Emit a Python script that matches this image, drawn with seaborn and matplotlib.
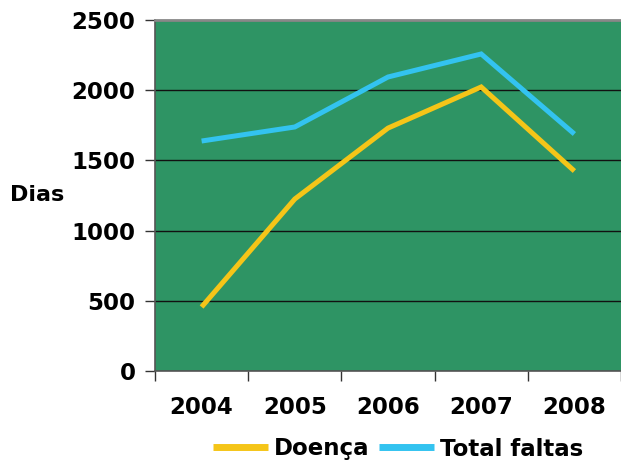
import matplotlib
matplotlib.use("Agg")
import matplotlib.pyplot as plt
import seaborn as sns
import pandas as pd
import numpy as np

years = ["2004", "2005", "2006", "2007", "2008"]
doenca = [456, 1225, 1730, 2023, 1424]
total_faltas = [1638, 1738, 2094, 2258, 1688]
series_names = ["Doença", "Total faltas"]
colors = ["#F5C518", "#33C3F0"]

df = pd.DataFrame({
    "pos": list(range(len(years))) * 2,
    "Dias": doenca + total_faltas,
    "serie": [series_names[0]] * len(years) + [series_names[1]] * len(years),
})

sns.set_style("white")
plt.rcParams['font.family'] = ['DejaVu Sans']
plt.rcParams['text.color'] = 'black'
plt.rcParams['xtick.color'] = 'black'
plt.rcParams['ytick.color'] = 'black'

fig = plt.figure(figsize=(6.21, 4.63), dpi=100)
ax = fig.add_axes([155/621, 1 - 371/463, 466/621, 351/463])
ax.set_facecolor("#2E9464")

sns.lineplot(data=df, x="pos", y="Dias", hue="serie", palette=colors,
             linewidth=3.6, ax=ax, legend=True)
for ln in ax.get_lines():
    ln.set_solid_capstyle("butt")
    ln.set_solid_joinstyle("miter")

ax.set_xlim(-0.5, len(years) - 0.5)
ax.set_ylim(0, 2500)
ax.set_yticks(np.arange(0, 2501, 500))
ax.set_yticklabels([str(v) for v in range(0, 2501, 500)], fontsize=16.5, fontweight="bold", color="black")
ax.set_xticks(range(len(years)))
ax.set_xticklabels(years, fontsize=16.5, fontweight="bold", color="black")
ax.set_xticks(np.arange(-0.5, len(years), 1.0), minor=True)
ax.tick_params(axis="x", which="major", bottom=True, length=0, pad=18)
ax.tick_params(axis="x", which="minor", bottom=True, length=7, width=1, color="#333333", direction="out")
ax.tick_params(axis="y", which="major", left=True, length=7, width=1, color="#333333", direction="out", pad=7)
ax.yaxis.grid(True, color="#111111", linewidth=1)
ax.set_axisbelow(True)

for s in ["left", "bottom"]:
    ax.spines[s].set_color("#555555")
    ax.spines[s].set_linewidth(1.2)
ax.spines["top"].set_color("#888888")
ax.spines["top"].set_linewidth(2)
ax.spines["right"].set_visible(False)

ax.set_xlabel("")
ax.set_ylabel("Dias", rotation=0, fontsize=16, fontweight="bold", labelpad=0, color="black",
              va="center", ha="center")
ax.yaxis.set_label_coords((37 - 155) / 466, (371 - 195) / 351)

handles, labels = ax.get_legend_handles_labels()
for h in handles:
    h.set_linewidth(5)
    h.set_solid_capstyle("butt")
leg = ax.legend(handles, labels, loc="center", bbox_to_anchor=((398 - 155) / 466, -(449 - 371) / 351),
                ncol=2, frameon=False, handlelength=2.4, handletextpad=0.25, columnspacing=0.45,
                prop={"size": 16.5, "weight": "bold"})
for t in leg.get_texts():
    t.set_color("black")

fig.savefig("out.png", dpi=100)
